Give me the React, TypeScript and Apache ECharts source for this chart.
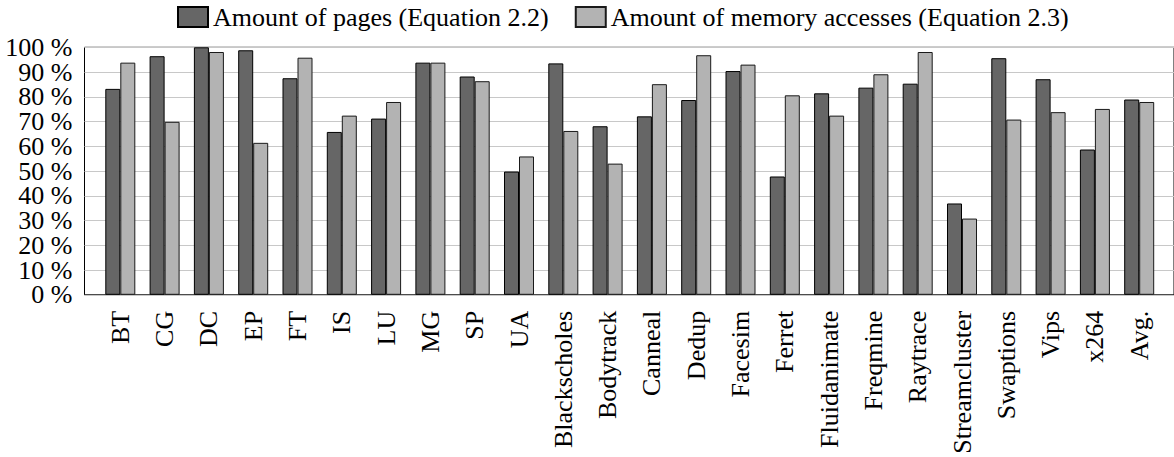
import React, { useEffect, useRef } from "react";
import * as echarts from "echarts";

const categories = [
  "BT", "CG", "DC", "EP", "FT", "IS", "LU", "MG", "SP", "UA",
  "Blackscholes", "Bodytrack", "Canneal", "Dedup", "Facesim", "Ferret",
  "Fluidanimate", "Freqmine", "Raytrace", "Streamcluster", "Swaptions",
  "Vips", "x264", "Avg.",
];

const pagesValues = [
  83.2, 96.4, 100, 98.8, 87.5, 65.8, 71.2, 93.8, 88.2, 49.8,
  93.5, 68.1, 72.1, 78.7, 90.4, 47.8, 81.4, 83.7, 85.3, 36.9,
  95.6, 87.1, 58.7, 78.9,
];

const accessValues = [
  93.8, 69.9, 98.1, 61.4, 95.8, 72.4, 77.9, 93.8, 86.3, 55.9,
  66.2, 53.0, 85.1, 96.8, 93.0, 80.6, 72.4, 89.1, 98.1, 30.8,
  70.8, 73.8, 75.1, 77.9,
];

const seriesNames = [
  "Amount of pages (Equation 2.2)",
  "Amount of memory accesses (Equation 2.3)",
];

const yMin = 0;
const yMax = 100;
const yStep = 10;

const FONT = "'Liberation Serif', 'Times New Roman', serif";

const tickText = (v: number) => `${v} %`;

export default function App() {
  const ref = useRef<HTMLDivElement>(null);

  useEffect(() => {
    document.body.style.margin = "0";
    const chart = echarts.init(ref.current!, undefined, { renderer: "svg" });

    const plotTop = 47.3;
    const plotHeight = 247.5;

    const yLabelStyle = {
      margin: 12,
      fontFamily: FONT,
      fontSize: 26,
      color: "#000",
      hideOverlap: false,
    };

    chart.setOption({
      animation: false,
      backgroundColor: "#ffffff",
      textStyle: { fontFamily: FONT },
      legend: {
        data: seriesNames,
        left: 177,
        top: 4,
        padding: 0,
        itemWidth: 30,
        itemHeight: 20,
        itemGap: 26,
        icon: "rect",
        textStyle: { fontFamily: FONT, fontSize: 26, color: "#000" },
      },
      grid: [
        // bar area
        { left: 98.15, top: plotTop, width: 1063.2, height: plotHeight, containLabel: false },
        // surrounding frame with the value scale
        {
          left: 84.5,
          top: plotTop,
          width: 1100,
          height: plotHeight,
          show: true,
          borderColor: "#000",
          borderWidth: 1,
          backgroundColor: "transparent",
        },
      ],
      xAxis: [
        {
          type: "category",
          gridIndex: 0,
          data: categories,
          boundaryGap: true,
          axisLine: { show: false },
          axisTick: { show: false },
          axisLabel: {
            interval: 0,
            rotate: 90,
            margin: 16,
            fontFamily: FONT,
            fontSize: 26,
            color: "#000",
          },
        },
        { type: "value", gridIndex: 1, min: 0, max: 1, show: false },
      ],
      yAxis: [
        { type: "value", gridIndex: 0, min: yMin, max: yMax, interval: yStep, show: false },
        // grid lines every 10 %, labelled at the odd decades
        {
          type: "value",
          gridIndex: 1,
          position: "left",
          min: yMin,
          max: yMax,
          interval: yStep,
          axisLine: { show: false },
          axisTick: { show: false },
          splitLine: { show: true, lineStyle: { color: "#c8c8c8", width: 1.2 } },
          axisLabel: {
            ...yLabelStyle,
            formatter: (v: number) => (v % (2 * yStep) === yStep ? tickText(v) : ""),
            showMinLabel: false,
            showMaxLabel: false,
          },
        },
        // labels at the even decades, 0 % to 100 %
        {
          type: "value",
          gridIndex: 1,
          position: "left",
          offset: 0,
          min: yMin,
          max: yMax,
          interval: 2 * yStep,
          axisLine: { show: false },
          axisTick: { show: false },
          splitLine: { show: false },
          axisLabel: {
            ...yLabelStyle,
            formatter: tickText,
            showMinLabel: true,
            showMaxLabel: true,
          },
        },
      ],
      series: [
        {
          name: seriesNames[0],
          type: "bar",
          xAxisIndex: 0,
          yAxisIndex: 0,
          data: pagesValues,
          barWidth: 15,
          barGap: "0%",
          itemStyle: { color: "#666666", borderColor: "#000", borderWidth: 1 },
          z: 3,
        },
        {
          name: seriesNames[1],
          type: "bar",
          xAxisIndex: 0,
          yAxisIndex: 0,
          data: accessValues,
          barWidth: 15,
          barGap: "0%",
          itemStyle: { color: "#b3b3b3", borderColor: "#1a1a1a", borderWidth: 1 },
          z: 3,
        },
      ],
    });

    return () => chart.dispose();
  }, []);

  return <div ref={ref} style={{ width: 1174, height: 457 }} />;
}
